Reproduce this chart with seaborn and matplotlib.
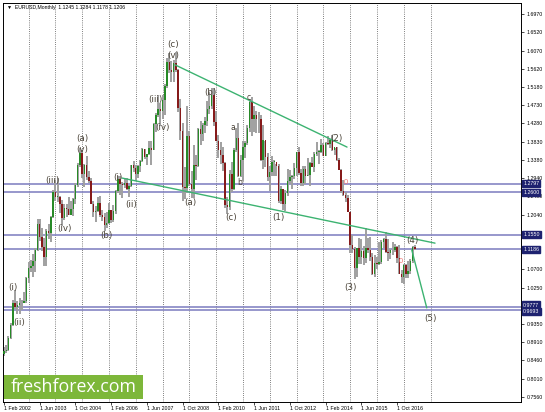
import numpy as np
import pandas as pd
import matplotlib
matplotlib.use("Agg")
import matplotlib.pyplot as plt
import matplotlib.transforms as mtransforms
from matplotlib.patches import Rectangle
import seaborn as sns

# 1. style
sns.set_theme(style="white")
plt.rcParams['font.family'] = ['Liberation Sans', 'DejaVu Sans']

# 2. monthly EURUSD bars, Feb 2002 .. Jun 2017
first_open = 0.8610
highs = [
    0.8790, 0.8840, 0.9050, 0.9380, 0.9950, 1.0190, 0.9920, 0.9980, 0.9950, 1.0140, 1.0500,          # 2002
    1.0880, 1.0930, 1.1080, 1.1230, 1.1930, 1.1930, 1.1710, 1.1470, 1.1680, 1.1820, 1.2000, 1.2650,  # 2003
    1.2900, 1.2930, 1.2490, 1.2400, 1.2290, 1.2290, 1.2470, 1.2380, 1.2440, 1.2810, 1.3300, 1.3670,  # 2004
    1.3620, 1.3280, 1.3470, 1.3110, 1.2940, 1.2380, 1.2260, 1.2480, 1.2500, 1.2150, 1.2080, 1.2100,  # 2005
    1.2320, 1.2150, 1.2280, 1.2640, 1.2980, 1.2980, 1.2850, 1.2950, 1.2930, 1.2780, 1.3260, 1.3370,  # 2006
    1.3270, 1.3250, 1.3380, 1.3680, 1.3650, 1.3530, 1.3850, 1.3850, 1.4280, 1.4530, 1.4970, 1.4790,  # 2007
    1.4970, 1.5240, 1.5900, 1.6020, 1.5820, 1.5850, 1.6040, 1.5630, 1.4870, 1.4300, 1.3220, 1.4720,  # 2008
    1.4090, 1.3120, 1.3740, 1.3500, 1.4170, 1.4340, 1.4300, 1.4450, 1.4840, 1.5060, 1.5140, 1.5140,  # 2009
    1.4580, 1.3990, 1.3820, 1.3690, 1.3330, 1.2470, 1.3130, 1.3330, 1.3680, 1.4160, 1.4280, 1.3500,  # 2010
    1.3860, 1.3860, 1.4250, 1.4880, 1.4940, 1.4700, 1.4580, 1.4550, 1.4500, 1.4250, 1.3860, 1.3550,  # 2011
    1.3230, 1.3490, 1.3390, 1.3290, 1.3290, 1.2750, 1.2670, 1.2640, 1.3170, 1.3140, 1.3010, 1.3310,  # 2012
    1.3590, 1.3710, 1.3160, 1.3240, 1.3240, 1.3420, 1.3340, 1.3450, 1.3570, 1.3830, 1.3630, 1.3890,  # 2013
    1.3790, 1.3830, 1.3970, 1.3910, 1.3990, 1.3680, 1.3700, 1.3440, 1.3160, 1.2890, 1.2600, 1.2530,  # 2014
    1.2100, 1.1530, 1.1240, 1.1210, 1.1470, 1.1440, 1.1280, 1.1710, 1.1460, 1.1500, 1.1100, 1.1060,  # 2015
    1.0990, 1.1380, 1.1410, 1.1460, 1.1620, 1.1430, 1.1190, 1.1370, 1.1330, 1.1270, 1.1300, 1.0670,  # 2016
    1.0830, 1.0830, 1.0910, 1.0950, 1.1270, 1.1284,                                                  # 2017
]
lows = [
    0.8565, 0.8640, 0.8690, 0.8990, 0.9310, 0.9720, 0.9600, 0.9600, 0.9690, 0.9860, 0.9860,          # 2002
    1.0360, 1.0620, 1.0500, 1.0620, 1.1150, 1.1400, 1.1140, 1.0770, 1.0770, 1.1450, 1.1380, 1.1950,  # 2003
    1.2370, 1.2360, 1.2080, 1.1760, 1.1900, 1.1980, 1.2020, 1.2030, 1.2000, 1.2290, 1.2720, 1.3210,  # 2004
    1.2940, 1.2730, 1.2880, 1.2810, 1.2300, 1.1980, 1.1870, 1.2100, 1.1990, 1.1880, 1.1640, 1.1710,  # 2005
    1.1800, 1.1830, 1.1850, 1.2060, 1.2560, 1.2520, 1.2460, 1.2700, 1.2640, 1.2480, 1.2730, 1.3080,  # 2006
    1.2870, 1.2930, 1.3080, 1.3330, 1.3410, 1.3270, 1.3510, 1.3260, 1.3620, 1.4060, 1.4440, 1.4210,  # 2007
    1.4400, 1.4500, 1.5140, 1.5510, 1.5290, 1.5300, 1.5550, 1.4550, 1.3880, 1.2380, 1.2420, 1.2570,  # 2008
    1.2750, 1.2450, 1.2460, 1.2880, 1.3200, 1.3750, 1.3840, 1.4050, 1.4210, 1.4520, 1.4640, 1.4220,  # 2009
    1.3860, 1.3440, 1.3280, 1.3110, 1.2200, 1.2050, 1.2150, 1.2590, 1.2640, 1.3580, 1.2970, 1.2970,  # 2010
    1.2870, 1.3430, 1.3750, 1.4060, 1.3970, 1.4070, 1.4050, 1.4050, 1.3360, 1.3150, 1.3210, 1.2860,  # 2011
    1.2630, 1.3000, 1.3000, 1.3000, 1.2330, 1.2290, 1.2150, 1.2130, 1.2500, 1.2800, 1.2660, 1.2920,  # 2012
    1.3000, 1.3020, 1.2740, 1.2750, 1.2800, 1.2980, 1.2750, 1.3210, 1.3100, 1.3480, 1.3290, 1.3550,  # 2013
    1.3480, 1.3480, 1.3750, 1.3670, 1.3600, 1.3500, 1.3370, 1.3130, 1.2570, 1.2500, 1.2360, 1.2100,  # 2014
    1.1100, 1.1100, 1.0460, 1.0520, 1.0820, 1.0820, 1.0810, 1.0860, 1.1090, 1.0900, 1.0560, 1.0520,  # 2015
    1.0710, 1.0810, 1.0820, 1.1230, 1.1100, 1.0910, 1.0950, 1.1050, 1.1120, 1.0850, 1.0570, 1.0350,  # 2016
    1.0340, 1.0490, 1.0490, 1.0570, 1.0840, 1.1178,                                                  # 2017
]
closes = [
    0.8700, 0.8720, 0.9020, 0.9330, 0.9870, 0.9780, 0.9810, 0.9860, 0.9880, 0.9930, 1.0490,          # 2002
    1.0730, 1.0780, 1.0910, 1.1180, 1.1800, 1.1500, 1.1240, 1.0990, 1.1650, 1.1600, 1.1990, 1.2590,  # 2003
    1.2480, 1.2480, 1.2300, 1.1960, 1.2200, 1.2170, 1.2020, 1.2180, 1.2430, 1.2760, 1.3270, 1.3560,  # 2004
    1.3040, 1.3250, 1.2960, 1.2870, 1.2300, 1.2100, 1.2130, 1.2330, 1.2030, 1.1990, 1.1790, 1.1840,  # 2005
    1.2150, 1.1920, 1.2120, 1.2620, 1.2920, 1.2790, 1.2760, 1.2810, 1.2680, 1.2750, 1.3250, 1.3190,  # 2006
    1.3030, 1.3240, 1.3350, 1.3650, 1.3450, 1.3540, 1.3680, 1.3640, 1.4260, 1.4490, 1.4640, 1.4590,  # 2007
    1.4860, 1.5190, 1.5790, 1.5600, 1.5550, 1.5760, 1.5600, 1.4670, 1.4090, 1.2720, 1.2700, 1.3970,  # 2008
    1.2800, 1.2670, 1.3250, 1.3240, 1.4150, 1.4030, 1.4250, 1.4330, 1.4640, 1.4720, 1.4990, 1.4320,  # 2009
    1.3860, 1.3630, 1.3510, 1.3300, 1.2270, 1.2230, 1.3050, 1.2680, 1.3630, 1.3930, 1.2990, 1.3380,  # 2010
    1.3690, 1.3810, 1.4160, 1.4810, 1.4400, 1.4500, 1.4390, 1.4380, 1.3390, 1.3870, 1.3450, 1.2960,  # 2011
    1.3080, 1.3330, 1.3340, 1.3240, 1.2370, 1.2660, 1.2300, 1.2580, 1.2860, 1.2960, 1.2990, 1.3190,  # 2012
    1.3580, 1.3060, 1.2820, 1.3160, 1.2990, 1.3010, 1.3300, 1.3220, 1.3520, 1.3580, 1.3590, 1.3740,  # 2013
    1.3480, 1.3800, 1.3770, 1.3870, 1.3640, 1.3690, 1.3390, 1.3130, 1.2630, 1.2530, 1.2450, 1.2100,  # 2014
    1.1290, 1.1190, 1.0730, 1.1220, 1.0990, 1.1150, 1.0980, 1.1210, 1.1170, 1.1000, 1.0570, 1.0860,  # 2015
    1.0830, 1.0870, 1.1380, 1.1450, 1.1130, 1.1100, 1.1170, 1.1160, 1.1240, 1.0980, 1.0590, 1.0520,  # 2016
    1.0800, 1.0580, 1.0650, 1.0900, 1.1245, 1.1206,                                                  # 2017
]

# 3. levels, axis labels, wave marks, trend lines
levels = [1.2797, 1.2600, 1.1550, 1.1186, 0.9777, 0.9693]
level_labels = ["1.2797", "1.2600", "1.1550", "1.1186", "0.9777", "0.9693"]
level_label_y = [1.2812, 1.2585, 1.1550, 1.1186, 0.9820, 0.9650]   # labels nudged apart where they crowd
price_ticks = [1.6970, 1.6520, 1.6070, 1.5620, 1.5180, 1.4730, 1.4280, 1.3830, 1.3380, 1.2940, 1.2490,
               1.2040, 1.1590, 1.1140, 1.0700, 1.0250, 0.9800, 0.9350, 0.8910, 0.8460, 0.8010, 0.7560]
hidden_ticks = [1.1590, 1.1140, 0.9800]   # covered by the level boxes on the chart
date_labels = ["1 Feb 2002", "1 Jun 2003", "1 Oct 2004", "1 Feb 2006", "1 Jun 2007", "1 Oct 2008",
               "1 Feb 2010", "1 Jun 2011", "1 Oct 2012", "1 Feb 2014", "1 Jun 2015", "1 Oct 2016"]
date_months = [0, 16, 32, 48, 64, 80, 96, 112, 128, 144, 160, 176]
year_months = [11, 23, 35, 47, 59, 71, 83, 95, 107, 119, 131, 143, 155, 167, 179, 191]   # 1 Jan of each year

wave_text = ["(i)", "(ii)", "(iii)", "(iv)", "(a)", "(v)", "(b)", "(i)", "(ii)", "(iii)", "(iv)", "(c)",
             "(v)", "(a)", "(b)", "a", "b", "c", "(c)", "(1)", "(2)", "(3)", "(4)", "(5)"]
wave_m = [4, 7, 21.5, 27.3, 35, 35, 46, 51, 57, 67.6, 70.8, 75.7,
          75.7, 83.3, 92.3, 102.5, 105.7, 109.7, 101.6, 122.8, 149, 155.3, 183, 191]
wave_p = [1.024, 0.940, 1.289, 1.171, 1.392, 1.363, 1.152, 1.296, 1.228, 1.488, 1.419, 1.621,
          1.596, 1.233, 1.503, 1.417, 1.282, 1.491, 1.198, 1.198, 1.390, 1.024, 1.140, 0.948]
zero_m = [153.2, 177.8]
zero_p = [1.282, 1.090]

upper_m, upper_p = [76.6, 153.6], [1.572, 1.370]
lower_m, lower_p = [52.8, 193.0], [1.294, 1.134]
proj_m, proj_p = [182.6, 189.3], [1.117, 0.975]

df = pd.DataFrame({"high": highs, "low": lows, "close": closes})
df["open"] = [first_open] + closes[:-1]
df["m"] = np.arange(len(df))
up = df["close"] >= df["open"]

# 4. figure
fig = plt.figure(figsize=(5.45, 4.12), dpi=100)
ax = fig.add_axes([3 / 545, 10 / 412, 518 / 545, 399 / 412])
ax.set_facecolor("white")

for m in year_months:
    ax.axvline(m, color="#555555", lw=0.6, ls=(0, (1, 1.6)), zorder=1)
for lv in levels:
    ax.axhline(lv, color="#7b7bbf", lw=1.1, zorder=1.5)

ax.vlines(df["m"], df["low"], df["high"], color="#a0a0a0", lw=1.4, zorder=2)
body_bottom = np.minimum(df["open"], df["close"])
body_h = np.maximum(np.abs(df["close"] - df["open"]), 0.002)
ax.bar(df["m"][up], body_h[up], bottom=body_bottom[up], width=0.65, color="#278a27", lw=0, zorder=3)
ax.bar(df["m"][~up], body_h[~up], bottom=body_bottom[~up], width=0.65, color="#861a1a", lw=0, zorder=3)

for xs, ys in [(upper_m, upper_p), (lower_m, lower_p), (proj_m, proj_p)]:
    sns.lineplot(x=xs, y=ys, ax=ax, color="#3cb371", lw=1.0, sort=False, estimator=None, zorder=4)

for t, m, p in zip(wave_text, wave_m, wave_p):
    ax.text(m, p, t, fontsize=6.3 if t.startswith("(") else 5.5, color="#4a4338",
            ha="center", va="center", family=["DejaVu Sans"], zorder=5)
for m, p in zip(zero_m, zero_p):
    ax.text(m, p, "0", fontsize=5.5, color="#f07878", ha="center", va="center", zorder=5)

ax.set_xlim(-0.45, 231.5)
ax.set_ylim(0.7437, 1.724)

ax.yaxis.tick_right()
ax.set_yticks(price_ticks)
ax.set_yticklabels(["" if v in hidden_ticks else f"{v:.4f}" for v in price_ticks])
ax.set_xticks(date_months)
ax.set_xticklabels(date_labels, ha="left")
ax.tick_params(axis="y", right=True, length=2.5, width=0.5, pad=1.5, labelsize=3.8, colors="black")
ax.tick_params(axis="x", bottom=True, length=2, width=0.5, pad=1, labelsize=3.8, colors="black")
for s in ax.spines.values():
    s.set_color("black")
    s.set_linewidth(0.7)

trans = mtransforms.blended_transform_factory(ax.transAxes, ax.transData)
for ly, lab in zip(level_label_y, level_labels):
    ax.text(1.004, ly, lab, transform=trans, fontsize=3.8, color="white", ha="left", va="center",
            clip_on=False, zorder=10,
            bbox=dict(boxstyle="square,pad=0.2", fc="#1e2270", ec="#1e2270"))

# header and logo
fig.text(7 / 545, 1 - 8 / 412, "\u25BC  EURUSD,Monthly  1.1245 1.1284 1.1178 1.1206", fontsize=3.7,
         va="center", ha="left", color="black", family=["Liberation Sans", "DejaVu Sans"])
fig.patches.append(Rectangle((4 / 545, 13 / 412), 139 / 545, 24 / 412, transform=fig.transFigure,
                             fc="#7db73a", ec="none", zorder=20))
fig.text(73.5 / 545, 1 - 387 / 412, "freshforex.com", fontsize=12.8, color="white", ha="center",
         va="center", family=["Open Sans"], zorder=21)

fig.savefig("out.png", dpi=100)
